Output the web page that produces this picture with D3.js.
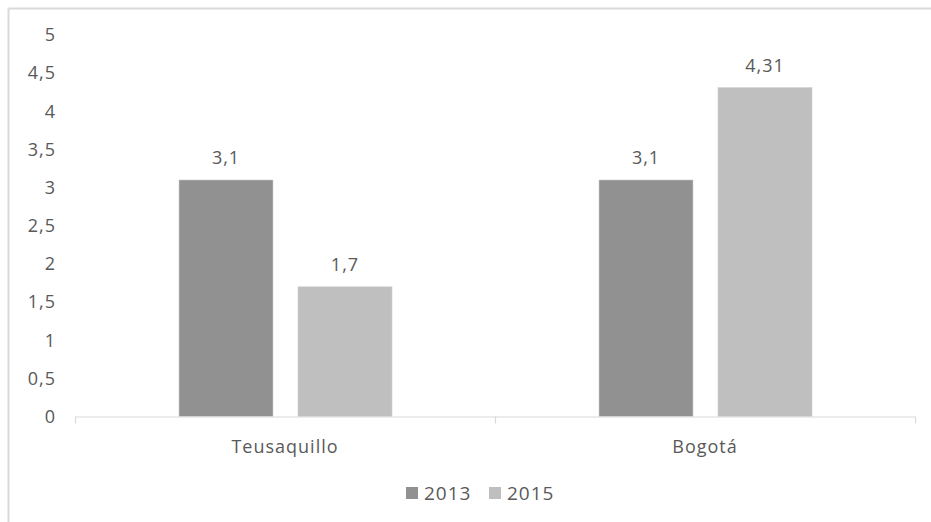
<!DOCTYPE html>
<html>
<head>
<meta charset="utf-8">
<script src="https://cdn.jsdelivr.net/npm/d3@7/dist/d3.min.js"></script>
<style>
  html, body { margin: 0; padding: 0; background: #fff; }
  svg { display: block; }
  text { font-family: "Open Sans", Lato, sans-serif; fill: #595959; letter-spacing: 1px; }
</style>
</head>
<body>
<svg id="chart" width="931" height="522"></svg>
<script>
const categories = ["Teusaquillo", "Bogotá"];
const seriesNames = ["2013", "2015"];
const values2013 = [3.1, 3.1];
const values2015 = [1.7, 4.31];
const valueLabels2013 = ["3,1", "3,1"];
const valueLabels2015 = ["1,7", "4,31"];
const yTicks = [0, 0.5, 1, 1.5, 2, 2.5, 3, 3.5, 4, 4.5, 5];
const colors = ["#919191", "#bfbfbf"];

const svg = d3.select("#chart");
const W = 931, H = 522;
const FS = 18;

// outer border (top and left visible)
svg.append("line").attr("x1", 8.5).attr("x2", W).attr("y1", 8.5).attr("y2", 8.5)
  .attr("stroke", "#d9d9d9").attr("stroke-width", 2);
svg.append("line").attr("x1", 8.5).attr("x2", 8.5).attr("y1", 8.5).attr("y2", H)
  .attr("stroke", "#d9d9d9").attr("stroke-width", 2);

const plot = { left: 75, right: 915, top: 35, bottom: 416.5 };

const x0 = d3.scaleBand().domain(categories).range([plot.left, plot.right]).paddingInner(0).paddingOuter(0);
const x1 = d3.scaleBand().domain(seriesNames).range([104, 317]).paddingInner(0.21);
const y = d3.scaleLinear().domain([0, 5]).range([plot.bottom, plot.top]);

const fmt = v => String(v).replace(".", ",");

// y tick labels
svg.append("g").selectAll("text").data(yTicks).join("text")
  .attr("x", 56).attr("y", d => y(d)).attr("dy", "0.35em")
  .attr("text-anchor", "end").attr("font-size", FS)
  .text(d => fmt(d));

const data = categories.map((c, i) => ({
  cat: c,
  vals: [
    { s: seriesNames[0], v: values2013[i], lab: valueLabels2013[i], col: colors[0] },
    { s: seriesNames[1], v: values2015[i], lab: valueLabels2015[i], col: colors[1] }
  ]
}));

const groups = svg.append("g").selectAll("g").data(data).join("g")
  .attr("transform", d => `translate(${x0(d.cat)},0)`);

groups.selectAll("rect").data(d => d.vals).join("rect")
  .attr("x", d => x1(d.s)).attr("width", x1.bandwidth())
  .attr("y", d => y(d.v)).attr("height", d => y(0) - y(d.v))
  .attr("fill", d => d.col)
  .attr("stroke", "#d0d0d0").attr("stroke-width", 0.6);

groups.selectAll("text.val").data(d => d.vals).join("text")
  .attr("class", "val")
  .attr("x", d => x1(d.s) + x1.bandwidth() / 2)
  .attr("y", d => y(d.v) - 22).attr("dy", "0.35em")
  .attr("text-anchor", "middle").attr("font-size", FS)
  .text(d => d.lab);

// x axis
const xAxis = d3.axisBottom(x0).tickSize(0).tickPadding(0).tickFormat("");
const ax = svg.append("g").attr("transform", `translate(0,${plot.bottom})`).call(xAxis);
ax.select(".domain").remove();
svg.append("line").attr("x1", plot.left).attr("x2", plot.right)
  .attr("y1", plot.bottom + 0.5).attr("y2", plot.bottom + 0.5)
  .attr("stroke", "#d9d9d9").attr("stroke-width", 1.2);
const boundaries = [plot.left, ...categories.map(c => x0(c) + x0.bandwidth())];
svg.append("g").selectAll("line").data(boundaries).join("line")
  .attr("x1", d => d + 0.5).attr("x2", d => d + 0.5)
  .attr("y1", plot.bottom).attr("y2", plot.bottom + 7)
  .attr("stroke", "#d9d9d9").attr("stroke-width", 1.2);

svg.append("g").selectAll("text").data(categories).join("text")
  .attr("x", d => x0(d) + x0.bandwidth() / 2).attr("y", 447).attr("dy", "0.35em")
  .attr("text-anchor", "middle").attr("font-size", FS)
  .text(d => d);

// legend
const legend = svg.append("g");
const legX = [406, 489];
seriesNames.forEach((s, i) => {
  legend.append("rect").attr("x", legX[i]).attr("y", 487).attr("width", 12).attr("height", 12)
    .attr("fill", colors[i]);
  legend.append("text").attr("x", legX[i] + 18).attr("y", 493).attr("dy", "0.35em")
    .attr("font-size", 19).text(s);
});
</script>
</body>
</html>
